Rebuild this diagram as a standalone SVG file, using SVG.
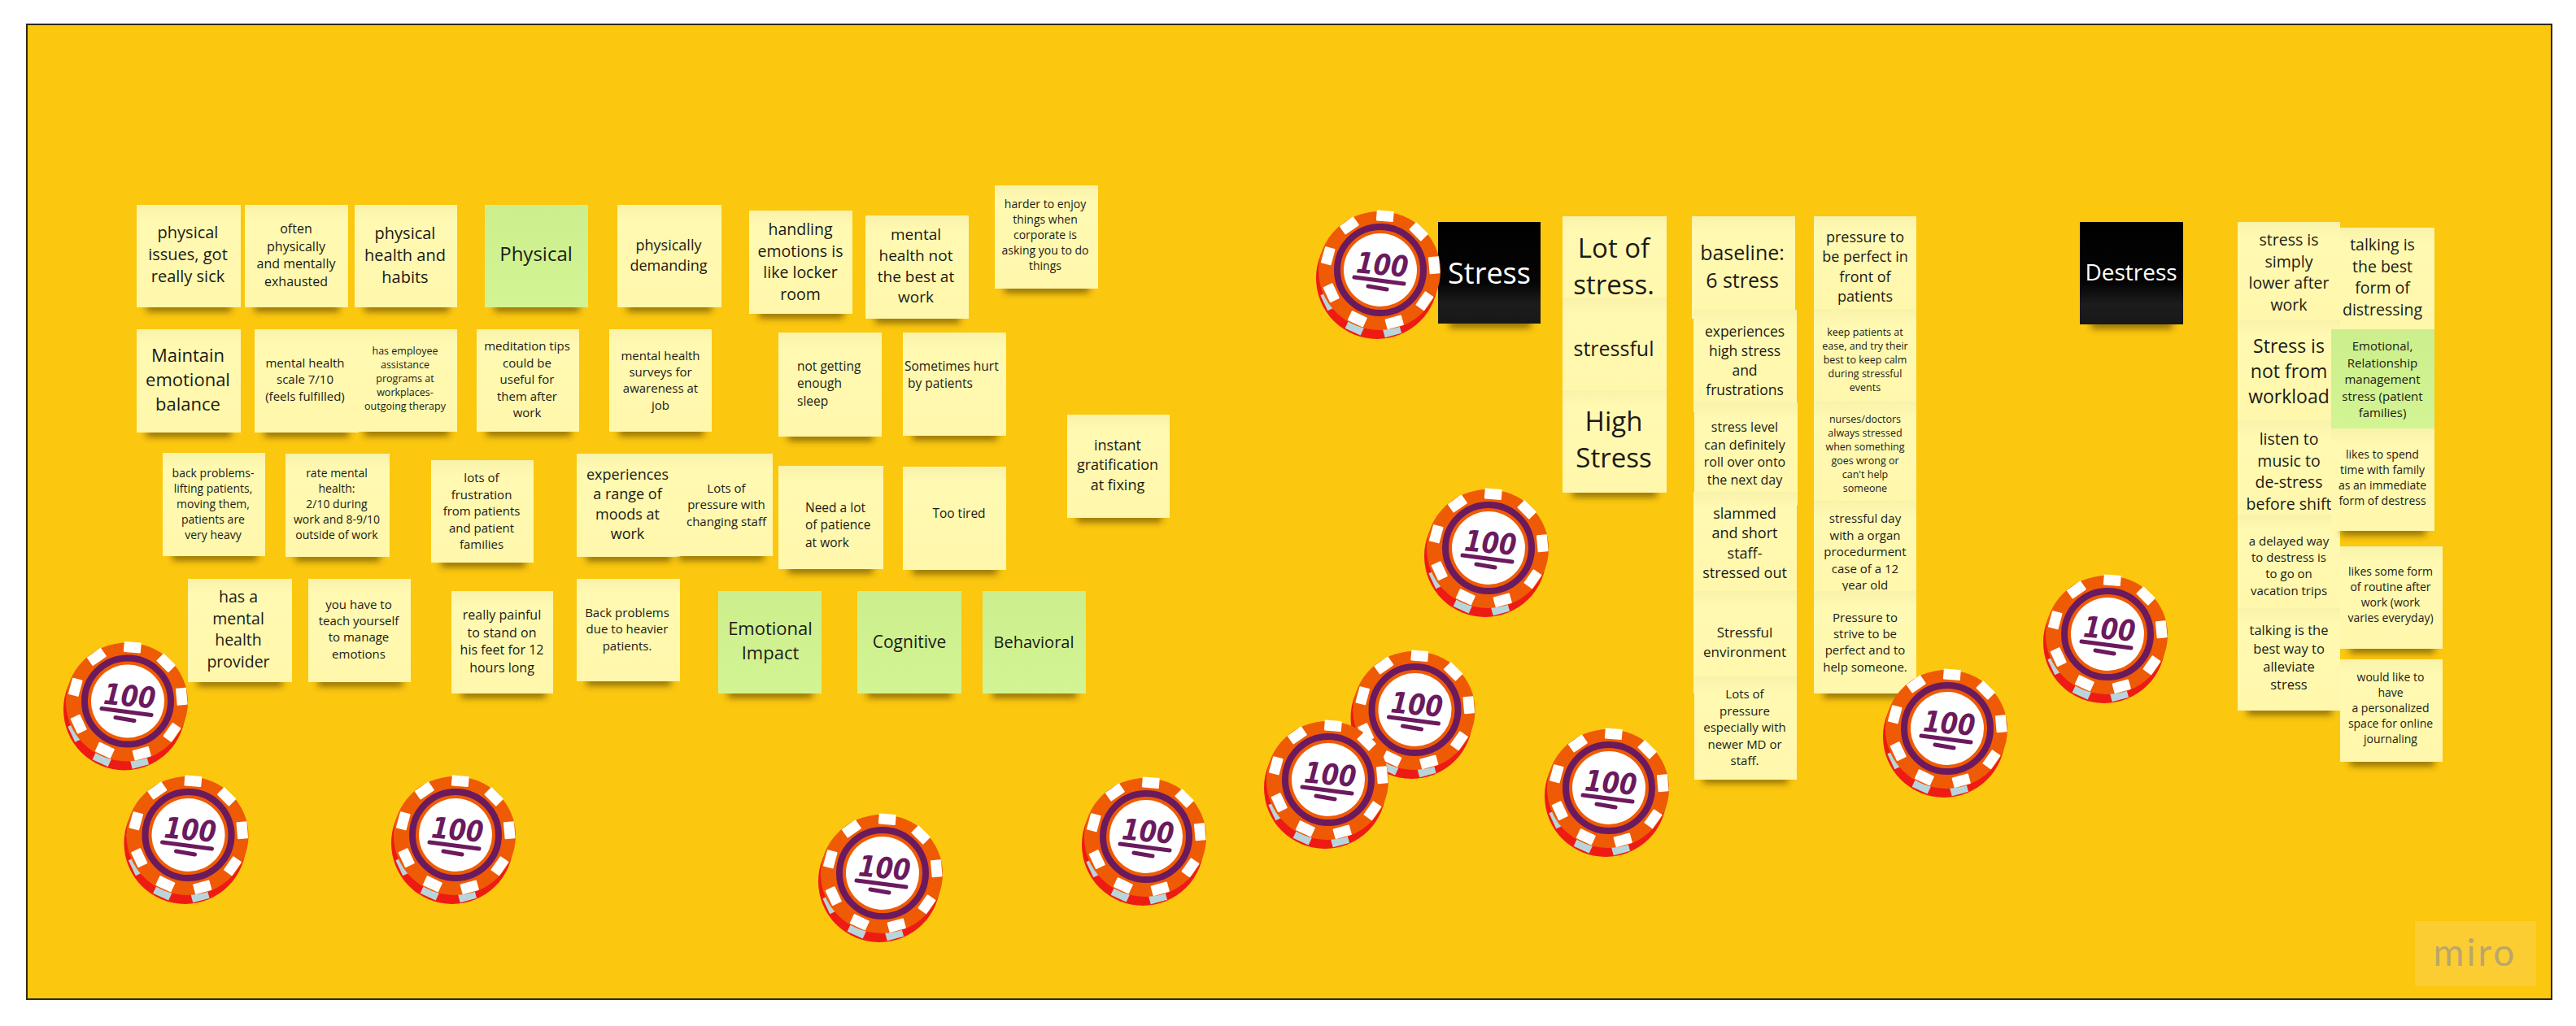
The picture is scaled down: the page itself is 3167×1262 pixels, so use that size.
<svg xmlns="http://www.w3.org/2000/svg" width="3167" height="1262" viewBox="0 0 3167 1262">
<style>
text{font-family:"Open Sans","Noto Sans","Liberation Sans",sans-serif;fill:#1b1b17}
.c{text-anchor:middle}
.y{fill:url(#gy)}.g{fill:url(#gg)}.k{fill:url(#gk)}
.sh{fill:#3d2c00;opacity:.62;filter:url(#bl)}
.w{fill:#fff}
.tick{fill:#fff}.gt{fill:#b9d5dc}
.hundred{font-family:"DejaVu Sans",sans-serif;font-weight:700;font-style:italic;font-size:36px;fill:#6b1a5e;text-anchor:middle}
.f12{font-size:12.5px}.f14{font-size:14px}.f15{font-size:15px}.f155{font-size:15.5px}.f16{font-size:16px}.f165{font-size:16.5px}.f17{font-size:17px}.f175{font-size:17.5px}.f18{font-size:18px}.f19{font-size:19px}.f195{font-size:19.5px}.f20{font-size:20px}.f21{font-size:21px}.f22{font-size:22px}.f23{font-size:23px}.f24{font-size:24px}.f25{font-size:25px}.f28{font-size:28px}.f33{font-size:33px}.f36{font-size:36px}
</style>
<defs>
<filter id="bl" x="-20%" y="-150%" width="140%" height="400%"><feGaussianBlur stdDeviation="4"/></filter>
<linearGradient id="gy" x1="0" y1="0" x2="0" y2="1"><stop offset="0" stop-color="#f8f2aa"/><stop offset=".16" stop-color="#fff9b2"/><stop offset="1" stop-color="#fff7ab"/></linearGradient>
<linearGradient id="gg" x1="0" y1="0" x2="0" y2="1"><stop offset="0" stop-color="#cdee8c"/><stop offset="1" stop-color="#d3f493"/></linearGradient>
<linearGradient id="gk" x1="0" y1="0" x2="0" y2="1"><stop offset="0" stop-color="#000"/><stop offset=".6" stop-color="#050505"/><stop offset=".8" stop-color="#1c1c1c"/><stop offset="1" stop-color="#181818"/></linearGradient>
<g id="chip">
<circle cx="-4" cy="10" r="75" fill="#ee1b14"/>
<g transform="translate(-3 10)">
<rect class="gt" x="-10.5" y="-73" width="21" height="13" transform="rotate(165)"/>
<rect class="gt" x="-10.5" y="-73" width="21" height="13" transform="rotate(205)"/>
<rect class="gt" x="-10.5" y="-73" width="21" height="13" transform="rotate(245)"/>
<rect class="gt" x="-10.5" y="-73" width="21" height="13" transform="rotate(285)"/>
</g>
<ellipse cx="-1" cy="1" rx="75" ry="73" fill="#ef5a04"/>
<rect class="tick" x="-10.5" y="-73" width="21" height="13" rx="1" transform="rotate(5)"/>
<rect class="tick" x="-10.5" y="-73" width="21" height="13" rx="1" transform="rotate(45)"/>
<rect class="tick" x="-10.5" y="-73" width="21" height="13" rx="1" transform="rotate(85)"/>
<rect class="tick" x="-10.5" y="-73" width="21" height="13" rx="1" transform="rotate(125)"/>
<rect class="tick" x="-10.5" y="-73" width="21" height="13" rx="1" transform="rotate(165)"/>
<rect class="tick" x="-10.5" y="-73" width="21" height="13" rx="1" transform="rotate(205)"/>
<rect class="tick" x="-10.5" y="-73" width="21" height="13" rx="1" transform="rotate(245)"/>
<rect class="tick" x="-10.5" y="-73" width="21" height="13" rx="1" transform="rotate(285)"/>
<rect class="tick" x="-10.5" y="-73" width="21" height="13" rx="1" transform="rotate(325)"/>
<circle r="53" fill="none" stroke="#6b1a5e" stroke-width="8"/>
<circle r="45" fill="#fff"/>
<path d="M-32 9L29 17M-15 20L8 24" fill="none" stroke="#6b1a5e" stroke-width="5" stroke-linecap="round"/>
</g>
</defs>
<rect width="3167" height="1262" fill="#fff"/>
<rect x="33" y="30" width="3104" height="1199" fill="#fbc70f" stroke="#2e2a1c" stroke-width="2"/>

<g id="n-physical-issues"><rect class="sh" x="180" y="374" width="104" height="9"/><rect class="y" x="168" y="252" width="128" height="126"/><text class="c f20" y="313"><tspan x="231" dy="-1.01em">physical</tspan><tspan x="231" dy="1.36em">issues, got</tspan><tspan x="231" dy="1.36em">really sick</tspan></text></g>
<g id="n-often"><rect class="sh" x="313" y="374" width="104" height="9"/><rect class="y" x="301" y="252" width="127" height="126"/><text class="c f16" y="314"><tspan x="364" dy="-1.69em">often</tspan><tspan x="364" dy="1.36em">physically</tspan><tspan x="364" dy="1.36em">and mentally</tspan><tspan x="364" dy="1.36em">exhausted</tspan></text></g>
<g id="n-physical-health"><rect class="sh" x="448" y="374" width="104" height="9"/><rect class="y" x="436" y="252" width="126" height="126"/><text class="c f20" y="314"><tspan x="498" dy="-1.01em">physical</tspan><tspan x="498" dy="1.36em">health and</tspan><tspan x="498" dy="1.36em">habits</tspan></text></g>
<g id="n-physical"><rect class="sh" x="608" y="374" width="104" height="9"/><rect class="g" x="596" y="252" width="127" height="126"/><text class="c f24" x="659" y="313" dy=".35em">Physical</text></g>
<g id="n-demanding"><rect class="sh" x="771" y="374" width="104" height="9"/><rect class="y" x="759" y="252" width="128" height="126"/><text class="c f18" y="314"><tspan x="822" dy="-.33em">physically</tspan><tspan x="822" dy="1.36em">demanding</tspan></text></g>
<g id="n-locker"><rect class="sh" x="933" y="382" width="104" height="9"/><rect class="y" x="921" y="259" width="127" height="127"/><text class="c f195" y="322"><tspan x="984" dy="-1.69em">handling</tspan><tspan x="984" dy="1.36em">emotions is</tspan><tspan x="984" dy="1.36em">like locker</tspan><tspan x="984" dy="1.36em">room</tspan></text></g>
<g id="n-not-best"><rect class="sh" x="1076" y="388" width="104" height="9"/><rect class="y" x="1064" y="265" width="127" height="127"/><text class="c f19" y="327"><tspan x="1126" dy="-1.69em">mental</tspan><tspan x="1126" dy="1.36em">health not</tspan><tspan x="1126" dy="1.36em">the best at</tspan><tspan x="1126" dy="1.36em">work</tspan></text></g>
<g id="n-harder"><rect class="sh" x="1235" y="351" width="104" height="9"/><rect class="y" x="1223" y="228" width="127" height="127"/><text class="c f14" y="289"><tspan x="1285" dy="-2.37em">harder to enjoy</tspan><tspan x="1285" dy="1.36em">things when</tspan><tspan x="1285" dy="1.36em">corporate is</tspan><tspan x="1285" dy="1.36em">asking you to do</tspan><tspan x="1285" dy="1.36em">things</tspan></text></g>

<g id="n-maintain"><rect class="sh" x="180" y="528" width="104" height="9"/><rect class="y" x="168" y="405" width="128" height="127"/><text class="c f22" y="467"><tspan x="231" dy="-1.01em">Maintain</tspan><tspan x="231" dy="1.36em">emotional</tspan><tspan x="231" dy="1.36em">balance</tspan></text></g>
<g id="n-scale"><rect class="sh" x="325" y="528" width="104" height="9"/><rect class="y" x="313" y="405" width="128" height="127"/><text class="c f15" y="467"><tspan x="375" dy="-1.01em">mental health</tspan><tspan x="375" dy="1.36em">scale 7/10</tspan><tspan x="375" dy="1.36em">(feels fulfilled)</tspan></text></g>
<g id="n-employee"><rect class="sh" x="448" y="527" width="104" height="9"/><rect class="y" x="436" y="405" width="126" height="126"/><text class="c f12" y="466"><tspan x="498" dy="-2.37em">has employee</tspan><tspan x="498" dy="1.36em">assistance</tspan><tspan x="498" dy="1.36em">programs at</tspan><tspan x="498" dy="1.36em">workplaces-</tspan><tspan x="498" dy="1.36em">outgoing therapy</tspan></text></g>
<g id="n-meditation"><rect class="sh" x="598" y="527" width="104" height="9"/><rect class="y" x="586" y="405" width="126" height="126"/><text class="c f15" y="467"><tspan x="648" dy="-2.37em">meditation tips</tspan><tspan x="648" dy="1.36em">could be</tspan><tspan x="648" dy="1.36em">useful for</tspan><tspan x="648" dy="1.36em">them after</tspan><tspan x="648" dy="1.36em">work</tspan></text></g>
<g id="n-surveys"><rect class="sh" x="761" y="527" width="104" height="9"/><rect class="y" x="749" y="405" width="126" height="126"/><text class="c f15" y="468"><tspan x="812" dy="-1.69em">mental health</tspan><tspan x="812" dy="1.36em">surveys for</tspan><tspan x="812" dy="1.36em">awareness at</tspan><tspan x="812" dy="1.36em">job</tspan></text></g>
<g id="n-sleep"><rect class="sh" x="969" y="533" width="104" height="9"/><rect class="y" x="957" y="409" width="127" height="128"/><text class="f155" y="472"><tspan x="980" dy="-1.01em">not getting</tspan><tspan x="980" dy="1.36em">enough</tspan><tspan x="980" dy="1.36em">sleep</tspan></text></g>
<g id="n-hurt"><rect class="sh" x="1122" y="532" width="104" height="9"/><rect class="y" x="1110" y="409" width="127" height="127"/><text class="f155" y="461"><tspan x="1112" dy="-.33em">Sometimes hurt</tspan><tspan x="1116" dy="1.36em">by patients</tspan></text></g>
<g id="n-instant"><rect class="sh" x="1324" y="633" width="104" height="9"/><rect class="y" x="1312" y="510" width="126" height="127"/><text class="c f18" y="572"><tspan x="1374" dy="-1.01em">instant</tspan><tspan x="1374" dy="1.36em">gratification</tspan><tspan x="1374" dy="1.36em">at fixing</tspan></text></g>

<g id="n-back"><rect class="sh" x="212" y="680" width="104" height="9"/><rect class="y" x="200" y="557" width="126" height="127"/><text class="c f14" y="620"><tspan x="262" dy="-2.37em">back problems-</tspan><tspan x="262" dy="1.36em">lifting patients,</tspan><tspan x="262" dy="1.36em">moving them,</tspan><tspan x="262" dy="1.36em">patients are</tspan><tspan x="262" dy="1.36em">very heavy</tspan></text></g>
<g id="n-rate"><rect class="sh" x="363" y="681" width="104" height="9"/><rect class="y" x="351" y="558" width="128" height="127"/><text class="c f14" y="620"><tspan x="414" dy="-2.37em">rate mental</tspan><tspan x="414" dy="1.36em">health:</tspan><tspan x="414" dy="1.36em">2/10 during</tspan><tspan x="414" dy="1.36em">work and 8-9/10</tspan><tspan x="414" dy="1.36em">outside of work</tspan></text></g>
<g id="n-frustration"><rect class="sh" x="542" y="688" width="104" height="9"/><rect class="y" x="530" y="566" width="126" height="126"/><text class="c f15" y="629"><tspan x="592" dy="-2.37em">lots of</tspan><tspan x="592" dy="1.36em">frustration</tspan><tspan x="592" dy="1.36em">from patients</tspan><tspan x="592" dy="1.36em">and patient</tspan><tspan x="592" dy="1.36em">families</tspan></text></g>
<g id="n-moods"><rect class="sh" x="721" y="681" width="104" height="9"/><rect class="y" x="709" y="558" width="127" height="127"/><text class="c f18" y="620"><tspan x="771.5" dy="-1.69em">experiences</tspan><tspan x="771.5" dy="1.36em">a range of</tspan><tspan x="771.5" dy="1.36em">moods at</tspan><tspan x="771.5" dy="1.36em">work</tspan></text></g>
<g id="n-changing"><rect class="sh" x="835" y="680" width="104" height="9"/><rect class="y" x="823" y="558" width="127" height="126"/><text class="c f15" y="621"><tspan x="893" dy="-1.01em">Lots of</tspan><tspan x="893" dy="1.36em">pressure with</tspan><tspan x="893" dy="1.36em">changing staff</tspan></text></g>
<g id="n-patience"><rect class="sh" x="969" y="696" width="104" height="9"/><rect class="y" x="957" y="573" width="129" height="127"/><text class="f155" y="646"><tspan x="990" dy="-1.01em">Need a lot</tspan><tspan x="990" dy="1.36em">of patience</tspan><tspan x="990" dy="1.36em">at work</tspan></text></g>
<g id="n-tired"><rect class="sh" x="1122" y="697" width="104" height="9"/><rect class="y" x="1110" y="574" width="127" height="127"/><text class="c f155" x="1179" y="632" dy=".35em">Too tired</text></g>

<g id="n-provider"><rect class="sh" x="243" y="835" width="104" height="9"/><rect class="y" x="231" y="712" width="128" height="127"/><text class="c f195" y="774"><tspan x="293" dy="-1.69em">has a</tspan><tspan x="293" dy="1.36em">mental</tspan><tspan x="293" dy="1.36em">health</tspan><tspan x="293" dy="1.36em">provider</tspan></text></g>
<g id="n-teach"><rect class="sh" x="391" y="835" width="104" height="9"/><rect class="y" x="379" y="712" width="126" height="127"/><text class="c f15" y="774"><tspan x="441" dy="-1.69em">you have to</tspan><tspan x="441" dy="1.36em">teach yourself</tspan><tspan x="441" dy="1.36em">to manage</tspan><tspan x="441" dy="1.36em">emotions</tspan></text></g>
<g id="n-painful"><rect class="sh" x="567" y="849" width="104" height="9"/><rect class="y" x="555" y="727" width="125" height="126"/><text class="c f16" y="789"><tspan x="617" dy="-1.69em">really painful</tspan><tspan x="617" dy="1.36em">to stand on</tspan><tspan x="617" dy="1.36em">his feet for 12</tspan><tspan x="617" dy="1.36em">hours long</tspan></text></g>
<g id="n-heavier"><rect class="sh" x="721" y="834" width="104" height="9"/><rect class="y" x="709" y="712" width="127" height="126"/><text class="c f15" y="774"><tspan x="771" dy="-1.01em">Back problems</tspan><tspan x="771" dy="1.36em">due to heavier</tspan><tspan x="771" dy="1.36em">patients.</tspan></text></g>
<g id="n-emotional-impact"><rect class="sh" x="895" y="849" width="104" height="9"/><rect class="g" x="883" y="727" width="127" height="126"/><text class="c f22" y="788"><tspan x="947" dy="-.33em">Emotional</tspan><tspan x="947" dy="1.36em">Impact</tspan></text></g>
<g id="n-cognitive"><rect class="sh" x="1066" y="849" width="104" height="9"/><rect class="g" x="1054" y="727" width="128" height="126"/><text class="c f21" x="1118" y="790" dy=".35em">Cognitive</text></g>
<g id="n-behavioral"><rect class="sh" x="1220" y="849" width="104" height="9"/><rect class="g" x="1208" y="727" width="127" height="126"/><text class="c f20" x="1271" y="790" dy=".35em">Behavioral</text></g>

<g id="n-stress"><rect class="sh" x="1782" y="394" width="100" height="9"/><rect class="k" x="1768" y="273" width="126" height="125"/><text class="c f36" x="1831" y="336" dy=".35em" style="fill:#fff">Stress</text></g>
<g id="n-lot"><rect class="y" x="1921" y="266" width="128" height="127"/><text class="c f33" y="328"><tspan x="1984" dy="-.33em">Lot of</tspan><tspan x="1984" dy="1.36em">stress.</tspan></text></g>
<g id="n-stressful"><rect class="y" x="1921" y="366" width="128" height="127"/><text class="c f25" x="1984" y="429" dy=".35em">stressful</text></g>
<g id="n-high"><rect class="sh" x="1933" y="602" width="104" height="9"/><rect class="y" x="1921" y="480" width="128" height="126"/><text class="c f33" y="541"><tspan x="1984" dy="-.33em">High</tspan><tspan x="1984" dy="1.36em">Stress</tspan></text></g>

<g id="n-baseline"><rect class="y" x="2080" y="266" width="127" height="126"/><text class="c f25" y="328"><tspan x="2142" dy="-.33em">baseline:</tspan><tspan x="2142" dy="1.36em">6 stress</tspan></text></g>
<g id="n-experiences"><rect class="y" x="2082" y="381" width="127" height="126"/><text class="c f175" y="444"><tspan x="2145" dy="-1.69em">experiences</tspan><tspan x="2145" dy="1.36em">high stress</tspan><tspan x="2145" dy="1.36em">and</tspan><tspan x="2145" dy="1.36em">frustrations</tspan></text></g>
<g id="n-rollover"><rect class="y" x="2083" y="495" width="127" height="126"/><text class="c f16" y="558"><tspan x="2145" dy="-1.69em">stress level</tspan><tspan x="2145" dy="1.36em">can definitely</tspan><tspan x="2145" dy="1.36em">roll over onto</tspan><tspan x="2145" dy="1.36em">the next day</tspan></text></g>
<g id="n-slammed"><rect class="y" x="2082" y="605" width="127" height="126"/><text class="c f18" y="668"><tspan x="2145" dy="-1.69em">slammed</tspan><tspan x="2145" dy="1.36em">and short</tspan><tspan x="2145" dy="1.36em">staff-</tspan><tspan x="2145" dy="1.36em">stressed out</tspan></text></g>
<g id="n-environment"><rect class="y" x="2082" y="727" width="127" height="126"/><text class="c f17" y="790"><tspan x="2145" dy="-.33em">Stressful</tspan><tspan x="2145" dy="1.36em">environment</tspan></text></g>
<g id="n-newer"><rect class="sh" x="2094" y="954" width="104" height="9"/><rect class="y" x="2083" y="832" width="126" height="127"/><text class="c f15" y="895"><tspan x="2145" dy="-2.37em">Lots of</tspan><tspan x="2145" dy="1.36em">pressure</tspan><tspan x="2145" dy="1.36em">especially with</tspan><tspan x="2145" dy="1.36em">newer MD or</tspan><tspan x="2145" dy="1.36em">staff.</tspan></text></g>

<g id="n-pressure"><rect class="y" x="2230" y="266" width="126" height="126"/><text class="c f18" y="328"><tspan x="2293" dy="-1.69em">pressure to</tspan><tspan x="2293" dy="1.36em">be perfect in</tspan><tspan x="2293" dy="1.36em">front of</tspan><tspan x="2293" dy="1.36em">patients</tspan></text></g>
<g id="n-ease"><rect class="y" x="2230" y="380" width="126" height="126"/><text class="c f12" y="443"><tspan x="2293" dy="-2.37em">keep patients at</tspan><tspan x="2293" dy="1.36em">ease, and try their</tspan><tspan x="2293" dy="1.36em">best to keep calm</tspan><tspan x="2293" dy="1.36em">during stressful</tspan><tspan x="2293" dy="1.36em">events</tspan></text></g>
<g id="n-nurses"><rect class="y" x="2230" y="494" width="126" height="126"/><text class="c f12" y="558"><tspan x="2293" dy="-3.05em">nurses/doctors</tspan><tspan x="2293" dy="1.36em">always stressed</tspan><tspan x="2293" dy="1.36em">when something</tspan><tspan x="2293" dy="1.36em">goes wrong or</tspan><tspan x="2293" dy="1.36em">can't help</tspan><tspan x="2293" dy="1.36em">someone</tspan></text></g>
<g id="n-organ"><rect class="y" x="2230" y="616" width="126" height="126"/><text class="c f15" y="679"><tspan x="2293" dy="-2.37em">stressful day</tspan><tspan x="2293" dy="1.36em">with a organ</tspan><tspan x="2293" dy="1.36em">procedurment</tspan><tspan x="2293" dy="1.36em">case of a 12</tspan><tspan x="2293" dy="1.36em">year old</tspan></text></g>
<g id="n-strive"><rect class="sh" x="2242" y="849" width="104" height="9"/><rect class="y" x="2230" y="727" width="126" height="126"/><text class="c f15" y="790"><tspan x="2293" dy="-1.69em">Pressure to</tspan><tspan x="2293" dy="1.36em">strive to be</tspan><tspan x="2293" dy="1.36em">perfect and to</tspan><tspan x="2293" dy="1.36em">help someone.</tspan></text></g>

<g id="n-destress"><rect class="sh" x="2571" y="395" width="100" height="9"/><rect class="k" x="2557" y="273" width="127" height="126"/><text class="c f28" x="2620" y="335.5" dy=".35em" style="fill:#fff">Destress</text></g>
<g id="n-talking-form"><rect class="y" x="2866" y="280" width="127" height="125"/><text class="c f195" y="341"><tspan x="2929" dy="-1.69em">talking is</tspan><tspan x="2929" dy="1.36em">the best</tspan><tspan x="2929" dy="1.36em">form of</tspan><tspan x="2929" dy="1.36em">distressing</tspan></text></g>
<g id="n-lower"><rect class="y" x="2751" y="273" width="126" height="126"/><text class="c f195" y="335"><tspan x="2814" dy="-1.69em">stress is</tspan><tspan x="2814" dy="1.36em">simply</tspan><tspan x="2814" dy="1.36em">lower after</tspan><tspan x="2814" dy="1.36em">work</tspan></text></g>
<g id="n-workload"><rect class="y" x="2751" y="394" width="126" height="126"/><text class="c f23" y="457"><tspan x="2814" dy="-1.01em">Stress is</tspan><tspan x="2814" dy="1.36em">not from</tspan><tspan x="2814" dy="1.36em">workload</tspan></text></g>
<g id="n-music"><rect class="y" x="2751" y="517" width="126" height="126"/><text class="c f195" y="580"><tspan x="2814" dy="-1.69em">listen to</tspan><tspan x="2814" dy="1.36em">music to</tspan><tspan x="2814" dy="1.36em">de-stress</tspan><tspan x="2814" dy="1.36em">before shift</tspan></text></g>
<g id="n-vacation"><rect class="y" x="2751" y="633" width="126" height="126"/><text class="c f15" y="696"><tspan x="2814" dy="-1.69em">a delayed way</tspan><tspan x="2814" dy="1.36em">to destress is</tspan><tspan x="2814" dy="1.36em">to go on</tspan><tspan x="2814" dy="1.36em">vacation trips</tspan></text></g>
<g id="n-alleviate"><rect class="sh" x="2763" y="870" width="104" height="9"/><rect class="y" x="2751" y="748" width="126" height="126"/><text class="c f165" y="809"><tspan x="2814" dy="-1.69em">talking is the</tspan><tspan x="2814" dy="1.36em">best way to</tspan><tspan x="2814" dy="1.36em">alleviate</tspan><tspan x="2814" dy="1.36em">stress</tspan></text></g>
<g id="n-relationship"><rect class="g" x="2866" y="405" width="127" height="122"/><text class="c f15" y="467"><tspan x="2929" dy="-2.37em">Emotional,</tspan><tspan x="2929" dy="1.36em">Relationship</tspan><tspan x="2929" dy="1.36em">management</tspan><tspan x="2929" dy="1.36em">stress (patient</tspan><tspan x="2929" dy="1.36em">families)</tspan></text></g>
<g id="n-family"><rect class="sh" x="2878" y="649" width="104" height="9"/><rect class="y" x="2866" y="527" width="127" height="126"/><text class="c f14" y="588"><tspan x="2929" dy="-1.69em">likes to spend</tspan><tspan x="2929" dy="1.36em">time with family</tspan><tspan x="2929" dy="1.36em">as an immediate</tspan><tspan x="2929" dy="1.36em">form of destress</tspan></text></g>
<g id="n-routine"><rect class="sh" x="2889" y="794" width="104" height="9"/><rect class="y" x="2877" y="672" width="126" height="126"/><text class="c f14" y="732"><tspan x="2939" dy="-1.69em">likes some form</tspan><tspan x="2939" dy="1.36em">of routine after</tspan><tspan x="2939" dy="1.36em">work (work</tspan><tspan x="2939" dy="1.36em">varies everyday)</tspan></text></g>
<g id="n-journaling"><rect class="sh" x="2889" y="933" width="104" height="9"/><rect class="y" x="2877" y="811" width="126" height="126"/><text class="c f14" y="871"><tspan x="2939" dy="-2.37em">would like to</tspan><tspan x="2939" dy="1.36em">have</tspan><tspan x="2939" dy="1.36em">a personalized</tspan><tspan x="2939" dy="1.36em">space for online</tspan><tspan x="2939" dy="1.36em">journaling</tspan></text></g>

<g id="chip-1" transform="translate(157 862.5)"><use href="#chip"/><text class="hundred" x="2" y="6" transform="rotate(5)" textLength="64" lengthAdjust="spacingAndGlyphs">100</text></g>
<g id="chip-2" transform="translate(231.5 1027)"><use href="#chip"/><text class="hundred" x="2" y="6" transform="rotate(5)" textLength="64" lengthAdjust="spacingAndGlyphs">100</text></g>
<g id="chip-3" transform="translate(560 1027)"><use href="#chip"/><text class="hundred" x="2" y="6" transform="rotate(5)" textLength="64" lengthAdjust="spacingAndGlyphs">100</text></g>
<g id="chip-4" transform="translate(1085 1074)"><use href="#chip"/><text class="hundred" x="2" y="6" transform="rotate(5)" textLength="64" lengthAdjust="spacingAndGlyphs">100</text></g>
<g id="chip-5" transform="translate(1409 1029)"><use href="#chip"/><text class="hundred" x="2" y="6" transform="rotate(5)" textLength="64" lengthAdjust="spacingAndGlyphs">100</text></g>
<g id="chip-6" transform="translate(1739.5 873)"><use href="#chip"/><text class="hundred" x="2" y="6" transform="rotate(5)" textLength="64" lengthAdjust="spacingAndGlyphs">100</text></g>
<g id="chip-7" transform="translate(1633 959)"><use href="#chip"/><text class="hundred" x="2" y="6" transform="rotate(5)" textLength="64" lengthAdjust="spacingAndGlyphs">100</text></g>
<g id="chip-8" transform="translate(1697 332)"><use href="#chip"/><text class="hundred" x="2" y="6" transform="rotate(5)" textLength="64" lengthAdjust="spacingAndGlyphs">100</text></g>
<g id="chip-9" transform="translate(1830 674)"><use href="#chip"/><text class="hundred" x="2" y="6" transform="rotate(5)" textLength="64" lengthAdjust="spacingAndGlyphs">100</text></g>
<g id="chip-10" transform="translate(1978 969)"><use href="#chip"/><text class="hundred" x="2" y="6" transform="rotate(5)" textLength="64" lengthAdjust="spacingAndGlyphs">100</text></g>
<g id="chip-11" transform="translate(2394 896)"><use href="#chip"/><text class="hundred" x="2" y="6" transform="rotate(5)" textLength="64" lengthAdjust="spacingAndGlyphs">100</text></g>
<g id="chip-12" transform="translate(2591 780)"><use href="#chip"/><text class="hundred" x="2" y="6" transform="rotate(5)" textLength="64" lengthAdjust="spacingAndGlyphs">100</text></g>

<g id="miro"><rect x="2969" y="1133" width="149" height="80" fill="#fbcd33"/><text x="3043" y="1188" text-anchor="middle" font-size="46" letter-spacing="3" style="font-family:Lato,'Noto Sans',sans-serif;fill:#bba669">miro</text></g>
</svg>
